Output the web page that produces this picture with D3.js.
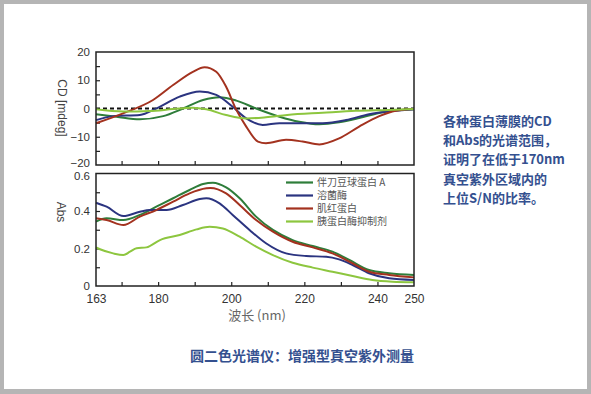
<!DOCTYPE html>
<html>
<head>
  <meta charset="utf-8">
  <title>圆二色光谱仪</title>
  <script type="text/javascript" src="https://d3js.org/d3.v7.min.js"></script>
  <style type="text/css">
    body {
      margin: 0px;
      background: #fff;
    }
    svg text {
      font-family: "Liberation Sans", Arial, "Noto Sans CJK SC", sans-serif;
    }
    .cjk {
      font-family: "Noto Sans CJK SC", sans-serif !important;
    }
  </style>
</head>
<body>
  <svg width="591" height="394"></svg>
  <script type="text/javascript">
    // series names and colours (legend order)
    var names = ["伴刀豆球蛋白 A", "溶菌酶", "肌红蛋白", "胰蛋白酶抑制剂"];
    var colors = ["#2e7d3a", "#2b3480", "#a3321f", "#8dc63f"];

    // CD spectra [nm, mdeg]
    var cdCanavalin = [[163,-2],[168.6,-2.9],[175,-3.8],[181.4,-2.7],[186.8,0],[192.3,3],[196.8,4],[201.4,2.8],[206.8,0],[213.2,-2.9],[218.6,-4.7],[224.1,-5.6],[229.5,-4.9],[235,-3.4],[241.4,-1.3],[250,-0.3]];
    var cdLysozyme = [[163,-4.1],[167.7,-2.7],[175,-2.3],[179.5,0],[185.9,4.2],[191.4,6],[195.9,4.8],[200.4,0.6],[204.1,-3.5],[208.6,-5.8],[213.2,-5.2],[219.5,-5.2],[225,-5.2],[231.4,-4.1],[237.7,-2],[244.2,-0.9],[250,-0.3]];
    var cdMyoglobin = [[163,-5.2],[170.4,-1.7],[178.6,3],[184.1,8.3],[189.5,13],[192.7,14.6],[195.9,13],[198.6,7.7],[201.4,-0.5],[204.1,-6.4],[207.3,-11.7],[209.5,-12.3],[215,-11.1],[219.5,-11.7],[224.1,-12.7],[229.5,-10.6],[235,-6.4],[240.5,-2.7],[245,-0.8],[250,-0.2]];
    var cdInhibitor = [[163,-0.3],[170.5,-1.1],[177.7,-0.9],[184.1,-0.2],[189.5,0.3],[193.2,-0.3],[198.6,-2.3],[204.1,-3.5],[209.5,-3.1],[215.3,-2.3],[225,-1.5],[234.1,-0.8],[243,-0.5],[250,-0.2]];

    // absorbance spectra [nm, Abs]
    var absCanavalin = [[163,0.343],[165.9,0.361],[170.5,0.352],[175,0.379],[179.5,0.423],[184.1,0.468],[188.6,0.512],[192.3,0.544],[195,0.551],[198.6,0.526],[202.3,0.468],[206.8,0.37],[211.4,0.299],[216.8,0.245],[222.3,0.213],[227.7,0.183],[232.3,0.139],[237.7,0.085],[243.2,0.068],[250,0.059]];
    var absLysozyme = [[163,0.444],[165.9,0.423],[170.5,0.373],[175,0.396],[177.7,0.405],[182.3,0.405],[186.8,0.432],[191.4,0.464],[193.2,0.468],[196.8,0.441],[200.4,0.379],[205,0.299],[209.5,0.228],[215,0.174],[220.5,0.16],[226,0.156],[229.5,0.142],[233.2,0.112],[237.7,0.068],[243.2,0.041],[250,0.032]];
    var absMyoglobin = [[163,0.361],[165.9,0.352],[170.5,0.325],[175,0.37],[179.5,0.405],[184.1,0.45],[188.6,0.494],[193.2,0.521],[194.3,0.523],[198.6,0.494],[202.3,0.432],[206.8,0.352],[211.4,0.29],[216.8,0.236],[222.3,0.206],[227.7,0.174],[232.3,0.13],[237.7,0.076],[243.2,0.059],[250,0.046]];
    var absInhibitor = [[163,0.206],[164.1,0.196],[167.7,0.174],[170.5,0.165],[172.3,0.183],[174.1,0.201],[176.8,0.206],[180.5,0.245],[185.9,0.272],[190.5,0.302],[194.1,0.316],[197.7,0.307],[202.3,0.263],[206.8,0.21],[211.4,0.165],[216.8,0.124],[222.3,0.098],[227.7,0.076],[233.2,0.053],[238.6,0.032],[244.1,0.023],[250,0.02]];

    var cdSeries = [cdCanavalin, cdLysozyme, cdMyoglobin, cdInhibitor];
    var absSeries = [absCanavalin, absLysozyme, absMyoglobin, absInhibitor];

    // tick values
    var xLabels = [163, 180, 200, 220, 240, 250];
    var xMinor = [170, 180, 190, 200, 210, 220, 230, 240];
    var cdLabels = [-20, -10, 0, 10, 20];
    var cdMinor = [-15, -10, -5, 0, 5, 10, 15];
    var absLabels = [0, 0.2, 0.4, 0.6];
    var absMinor = [0.1, 0.2, 0.3, 0.4, 0.5];

    var sideText = ["各种蛋白薄膜的CD", "和Abs的光谱范围，", "证明了在低于170nm", "真空紫外区域内的", "上位S/N的比率。"];
    var caption = "圆二色光谱仪：增强型真空紫外测量";

    var svg = d3.select("svg");

    // grey frame of the picture
    svg.append("rect").attr("x", 0).attr("y", 0).attr("width", 591).attr("height", 394).attr("fill", "#b5b5b5");
    svg.append("rect").attr("x", 4).attr("y", 4).attr("width", 583).attr("height", 385).attr("fill", "#fff");

    var x = d3.scaleLinear().domain([163, 250]).range([96, 414]);
    var yCD = d3.scaleLinear().domain([-20, 20]).range([165, 52]);
    var yAbs = d3.scaleLinear().domain([0, 0.6]).range([286, 173.5]);

    function drawPanel(y, series, labels, minor, fmt, showX, nudge) {
      var g = svg.append("g");
      var top = y.range()[1], bottom = y.range()[0];

      // inward ticks
      g.append("g").attr("transform", `translate(0,${bottom})`)
        .call(d3.axisBottom(x).tickValues(xMinor).tickSize(-4).tickFormat(""))
        .call(a => a.select(".domain").remove());
      g.append("g").attr("transform", `translate(${x.range()[0]},0)`)
        .call(d3.axisLeft(y).tickValues(minor).tickSize(-4).tickFormat(""))
        .call(a => a.select(".domain").remove());

      // labels
      g.append("g").attr("transform", `translate(${x.range()[0]},0)`)
        .call(d3.axisLeft(y).tickValues(labels).tickSize(0).tickPadding(6).tickFormat(fmt))
        .call(a => a.select(".domain").remove())
        .selectAll("text").attr("font-size", 11.5).attr("fill", "#333")
        .attr("y", nudge)
        .style("font-family", "'Liberation Sans', Arial, sans-serif");
      if (showX) {
        g.append("g").attr("transform", `translate(0,${bottom})`)
          .call(d3.axisBottom(x).tickValues(xLabels).tickSize(0).tickPadding(8))
          .call(a => a.select(".domain").remove())
          .selectAll("text").attr("font-size", 12).attr("fill", "#333")
          .style("font-family", "'Liberation Sans', Arial, sans-serif");
      }
      g.selectAll(".tick line").attr("stroke", "#222").attr("stroke-width", 1.2);

      var line = d3.line().x(d => x(d[0])).y(d => y(d[1])).curve(d3.curveMonotoneX);
      g.selectAll("path.series").data(series).enter().append("path")
        .attr("class", "series")
        .attr("d", line)
        .attr("fill", "none")
        .attr("stroke", (d, i) => colors[i])
        .attr("stroke-width", 2);

      g.append("rect")
        .attr("x", x.range()[0]).attr("y", top)
        .attr("width", x.range()[1] - x.range()[0]).attr("height", bottom - top)
        .attr("fill", "none").attr("stroke", "#222").attr("stroke-width", 1.5);
      return g;
    }

    // the -20 and 0.6 labels sit very close, push them slightly apart
    var gTop = drawPanel(yCD, cdSeries, cdLabels, cdMinor, d3.format("d"), false, d => d === -20 ? -2 : 0);
    // dashed zero line, drawn under the curves
    gTop.insert("line", "path.series")
      .attr("x1", x.range()[0]).attr("x2", x.range()[1])
      .attr("y1", yCD(0)).attr("y2", yCD(0))
      .attr("stroke", "#111").attr("stroke-width", 2).attr("stroke-dasharray", "4,3");

    drawPanel(yAbs, absSeries, absLabels, absMinor, d => d === 0 ? "0" : d3.format(".1f")(d), true, d => d === 0.6 ? 2 : 0);

    // axis titles
    svg.append("text").attr("transform", "translate(58,108) rotate(90)")
      .attr("text-anchor", "middle").attr("font-size", 12).attr("fill", "#444").text("CD [mdeg]");
    svg.append("text").attr("transform", "translate(57,212) rotate(90)")
      .attr("text-anchor", "middle").attr("font-size", 12).attr("fill", "#444").text("Abs");
    svg.append("text").attr("class", "cjk").attr("x", 257).attr("y", 320)
      .attr("text-anchor", "middle").attr("font-size", 13).attr("fill", "#666").text("波长 (nm)");

    // legend
    var legend = svg.append("g").selectAll("g").data(names).enter().append("g")
      .attr("transform", (d, i) => `translate(286,${182.5 + i * 13})`);
    legend.append("line").attr("x1", 0).attr("x2", 27).attr("y1", 0).attr("y2", 0)
      .attr("stroke", (d, i) => colors[i]).attr("stroke-width", 2.2);
    legend.append("text").attr("class", "cjk").attr("x", 31).attr("y", 3.6)
      .attr("font-size", 10).attr("fill", "#555").text(d => d);

    // side note
    svg.append("g").selectAll("text").data(sideText).enter().append("text")
      .attr("class", "cjk")
      .attr("x", 443).attr("y", (d, i) => 126 + i * 19.2)
      .attr("font-size", 13).attr("font-weight", "bold").attr("fill", "#34508f")
      .text(d => d);

    svg.append("text").attr("class", "cjk").attr("x", 190).attr("y", 361)
      .attr("font-size", 14).attr("font-weight", "bold").attr("fill", "#34508f")
      .text(caption);
  </script>
</body>
</html>
